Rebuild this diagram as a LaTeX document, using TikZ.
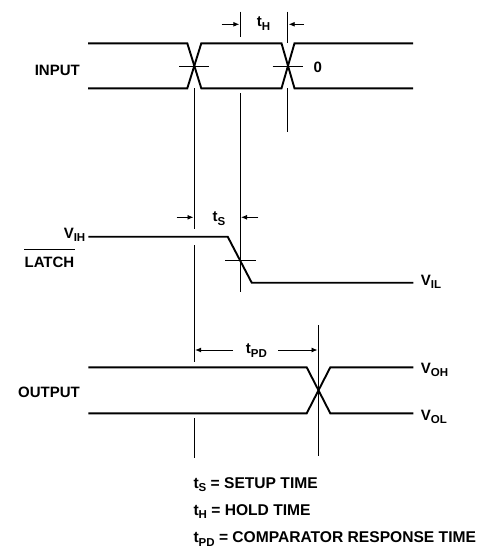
\documentclass[tikz,border=0pt]{standalone}
\usepackage{fontspec}
\setmainfont{Liberation Sans}
\usetikzlibrary{arrows.meta}
\newcommand\sbx[1]{\raisebox{-3.5pt}{\fontsize{11.5}{12}\selectfont #1}}
\begin{document}
\begin{tikzpicture}[x=1pt,y=-1pt,
  sig/.style={line width=1.9pt,line join=miter},
  thin/.style={line width=0.9pt},
  dim/.style={line width=0.9pt,-{Latex[length=6pt,width=5pt]}},
  lbl/.style={font=\bfseries\fontsize{15}{18}\selectfont,inner sep=0pt},
  leg/.style={font=\bfseries\fontsize{15.6}{18}\selectfont,inner sep=0pt,anchor=base west}]
\useasboundingbox (0,0) rectangle (493,550);
% INPUT bus
\draw[sig] (88,43.3) -- (187.3,43.3) -- (201.3,88.3) -- (281.5,88.3) -- (294.5,43.3) -- (413,43.3);
\draw[sig] (88,88.3) -- (187.3,88.3) -- (201.3,43.3) -- (281.5,43.3) -- (294.5,88.3) -- (413,88.3);
\draw[thin] (179,66) -- (209,66);
\draw[thin] (272.7,66) -- (303.3,66);
% LATCH
\draw[sig] (88.3,236.7) -- (227.7,236.7) -- (251.7,282.7) -- (413.3,282.7);
\draw[thin] (225,260) -- (256,260);
% OUTPUT
\draw[sig] (88.3,367.3) -- (306.7,367.3) -- (330.3,413.3) -- (413.3,413.3);
\draw[sig] (88.3,413.3) -- (306.7,413.3) -- (330.3,367.3) -- (413.3,367.3);
% vertical reference lines
\draw[thin] (194.3,88) -- (194.3,229);
\draw[thin] (194.3,245) -- (194.3,362);
\draw[thin] (194.3,418) -- (194.3,458);
\draw[thin] (240.2,11.7) -- (240.2,37);
\draw[thin] (240.2,93) -- (240.2,292);
\draw[thin] (287.8,11.7) -- (287.8,43.3);
\draw[thin] (287.8,88.3) -- (287.8,132);
\draw[thin] (318.3,325) -- (318.3,456);
% dimension arrows
\coordinate (hA) at (221.7,24.3); \coordinate (hB) at (239.3,24.3);
\coordinate (hC) at (304,24.3); \coordinate (hD) at (288.7,24.3);
\draw[dim] (hA) -- (hB);
\draw[dim] (hC) -- (hD);
\coordinate (sA) at (176.7,217.3); \coordinate (sB) at (193.5,217.3);
\coordinate (sC) at (258.3,217.3); \coordinate (sD) at (241,217.3);
\draw[dim] (sA) -- (sB);
\draw[dim] (sC) -- (sD);
\coordinate (pA) at (233,350); \coordinate (pB) at (195.1,350);
\coordinate (pC) at (278,350); \coordinate (pD) at (317.5,350);
\draw[dim] (pA) -- (pB);
\draw[dim] (pC) -- (pD);
% labels
\node[lbl,anchor=base east] (input) at (80,75) {INPUT};
\node[lbl,anchor=base east] (latch) at (74.5,267.7) {LATCH};
\draw[thin] ([yshift=18.7pt]latch.base west) -- ([yshift=18.7pt]latch.base east);
\node[lbl,anchor=base east] (output) at (80,397.3) {OUTPUT};
\node[lbl,anchor=base west] (zero) at (313.3,72.7) {0};
\node[lbl,anchor=base west] (th) at (256.7,26.7) {t\sbx{H}};
\node[lbl,anchor=base west] (ts) at (212.5,221.5) {t\sbx{S}};
\node[lbl,anchor=base west] (tpd) at (245.7,353.5) {t\sbx{PD}};
\node[lbl,anchor=base east] (vih) at (85.5,238) {V\sbx{IH}};
\node[lbl,anchor=base west] (vil) at (420.7,285) {V\sbx{IL}};
\node[lbl,anchor=base west] (voh) at (420.7,373.3) {V\sbx{OH}};
\node[lbl,anchor=base west] (vol) at (420.7,420) {V\sbx{OL}};
% legend
\node[leg] (l1) at (193.3,488.3) {t\sbx{S} = SETUP TIME};
\node[leg] (l2) at (193.3,515) {t\sbx{H} = HOLD TIME};
\node[leg] (l3) at (193.3,542.7) {t\sbx{PD} = COMPARATOR RESPONSE TIME};
\end{tikzpicture}
\end{document}
